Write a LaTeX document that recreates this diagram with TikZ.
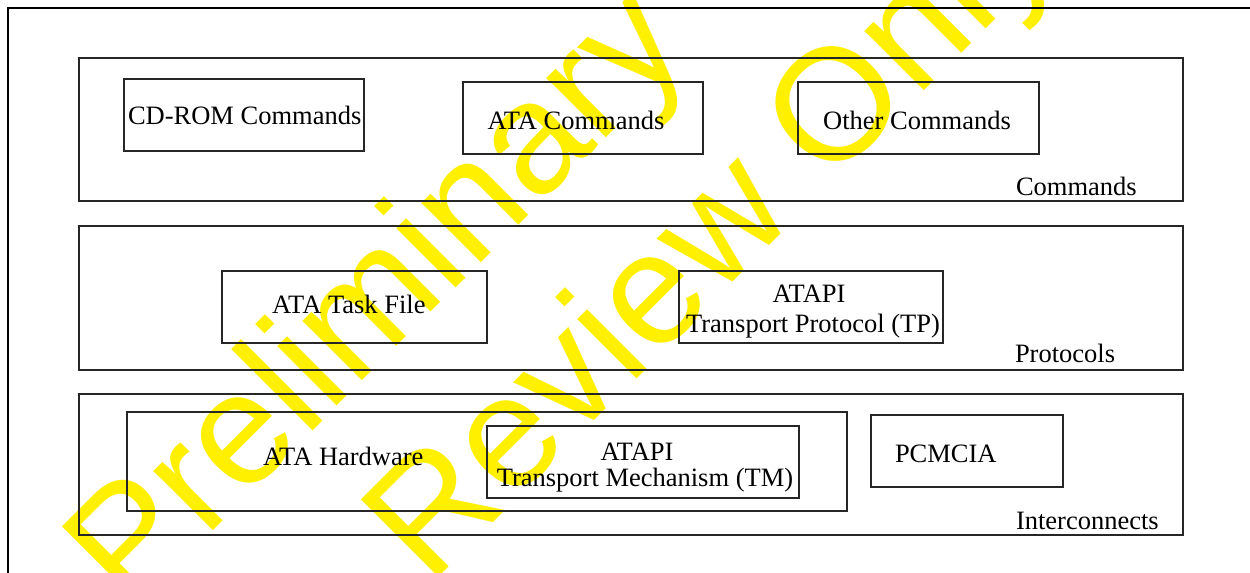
\documentclass[tikz,border=0pt]{standalone}
\usepackage{fontspec}
\setmainfont{Liberation Serif}
\newfontfamily\wmfont{Liberation Sans}
\usetikzlibrary{fit}
\definecolor{wmyellow}{RGB}{255,240,0}
\begin{document}
\begin{tikzpicture}[x=0.5pt,y=-0.5pt,
  box/.style={draw=black!85, line width=0.6pt, inner sep=0pt, outer sep=0pt},
  frame/.style={draw=black, line width=1.15pt},
  lbl/.style={inner sep=0pt, outer sep=0pt, font=\fontsize{13.25}{15}\selectfont, anchor=base west},
  wm/.style={inner sep=0pt, outer sep=0pt, anchor=base west, rotate=45, text=wmyellow, font=\wmfont\fontsize{79.5}{80}\selectfont}]
\useasboundingbox (0,0) rectangle (1250,573);
\fill[white] (0,0) rectangle (1250,573);
\begin{scope}
\clip (0,0) rectangle (1250,573);
\node[wm] (wm1) at (130.1,613.7) {Preliminary};
\node[wm] (wm2) at (429.2,586.1) {Review Only};
\draw[frame] (8,620) -- (8,8) -- (1270,8);
\end{scope}
% layers
\node[box, fit={(79,58) (1183,201)}] (cmds) {};
\node[box, fit={(79,226) (1183,370)}] (prot) {};
\node[box, fit={(79,394) (1183,535)}] (inter) {};
% inner boxes
\node[box, fit={(124,79) (364,151)}] (cdrom) {};
\node[box, fit={(463,82) (703,154)}] (atacmd) {};
\node[box, fit={(798,82) (1039,154)}] (other) {};
\node[box, fit={(222,271) (487,343)}] (task) {};
\node[box, fit={(679,271) (943,343)}] (tp) {};
\node[box, fit={(127,412) (847,511)}] (hw) {};
\node[box, fit={(487,426) (799,498)}] (tm) {};
\node[box, fit={(871,415) (1063,487)}] (pcmcia) {};
% labels
\node[lbl] (l-cdrom) at (128,125) {CD-ROM Commands};
\node[lbl, anchor=base] (l-atacmd) at (576,129) {ATA Commands};
\node[lbl, anchor=base] (l-other) at (917,129) {Other Commands};
\node[lbl] (l-cmds) at (1016,195) {Commands};
\node[lbl] (l-task) at (272,313) {ATA Task File};
\node[lbl, anchor=base] (l-tp1) at (809,302) {ATAPI};
\node[lbl, anchor=base] (l-tp2) at (813,332) {Transport Protocol (TP)};
\node[lbl] (l-prot) at (1015,362) {Protocols};
\node[lbl] (l-hw) at (263,465) {ATA Hardware};
\node[lbl, anchor=base] (l-tm1) at (637,460) {ATAPI};
\node[lbl, anchor=base] (l-tm2) at (645,486) {Transport Mechanism (TM)};
\node[lbl] (l-pcm) at (895,462) {PCMCIA};
\node[lbl] (l-inter) at (1016,529) {Interconnects};
\end{tikzpicture}
\end{document}
